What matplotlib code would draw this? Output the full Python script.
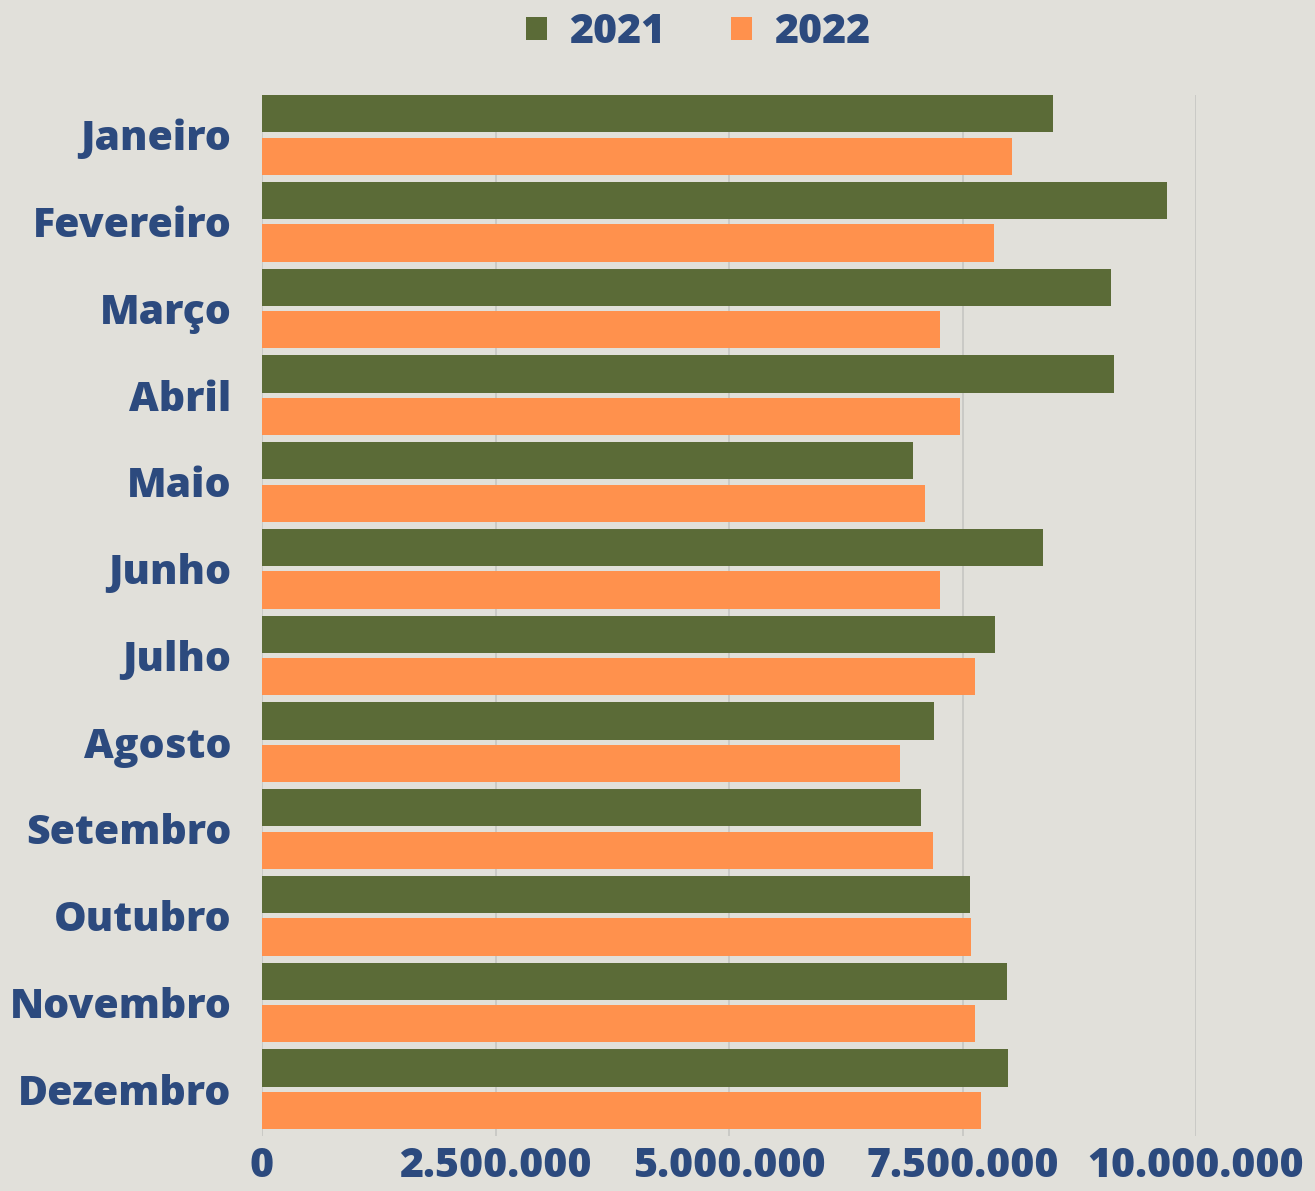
import matplotlib
matplotlib.use("Agg")
import matplotlib.pyplot as plt
import numpy as np
from matplotlib.ticker import FuncFormatter

months = ["Janeiro", "Fevereiro", "Março", "Abril", "Maio", "Junho",
          "Julho", "Agosto", "Setembro", "Outubro", "Novembro", "Dezembro"]
v2021 = [8.47e6, 9.69e6, 9.09e6, 9.12e6, 6.97e6, 8.36e6,
         7.85e6, 7.19e6, 7.06e6, 7.58e6, 7.98e6, 7.99e6]
v2022 = [8.03e6, 7.84e6, 7.26e6, 7.47e6, 7.10e6, 7.26e6,
         7.63e6, 6.83e6, 7.18e6, 7.59e6, 7.63e6, 7.70e6]
xticks = [0, 2.5e6, 5e6, 7.5e6, 10e6]

bg = "#E1E0DA"
green = "#5B6B37"
orange = "#FF914D"
txt = "#2C4A7E"
font = ["Open Sans", "DejaVu Sans"]

fig = plt.figure(figsize=(13.15, 11.91), dpi=100, facecolor=bg)
ax = fig.add_axes([262/1315, 1-1136/1191, (1196-262)/1315, (1136-95)/1191])
ax.set_facecolor(bg)

y = np.arange(len(months))
h = 0.43
ax.barh(y - 0.245, v2021, height=h, color=green, label="2021", zorder=3)
ax.barh(y + 0.245, v2022, height=h, color=orange, label="2022", zorder=3)

ax.set_ylim(11.54, -0.46)
ax.set_xlim(0, 10e6)
ax.set_xticks(xticks)
ax.xaxis.set_major_formatter(FuncFormatter(lambda v, p: f"{int(v):,}".replace(",", ".")))
ax.set_yticks(y)
ax.set_yticklabels(months)
for lab in ax.get_yticklabels() + ax.get_xticklabels():
    lab.set_fontfamily(font)
    lab.set_fontweight(900)
    lab.set_fontsize(29.5)
    lab.set_color(txt)
ax.tick_params(axis="y", length=0, pad=22)
ax.tick_params(axis="x", length=0, pad=7)
ax.grid(axis="x", color="#C6C6C2", linewidth=1.2, zorder=0)
for s in ax.spines.values():
    s.set_visible(False)

leg = fig.legend(loc="upper center", bbox_to_anchor=(0.531, 1.021), ncol=2, frameon=False,
                 handlelength=0.5, handleheight=0.5, columnspacing=1.6, handletextpad=0.55,
                 prop={"family": font, "weight": 900, "size": 29.5})
for t in leg.get_texts():
    t.set_color(txt)

fig.savefig("out.png", dpi=100, facecolor=bg)
